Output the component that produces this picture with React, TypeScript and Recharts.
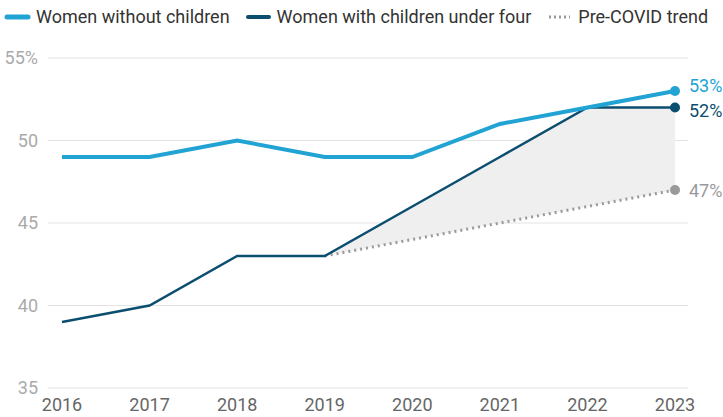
import { Line, Area, XAxis, YAxis, CartesianGrid, ComposedChart } from 'recharts';

const years = ['2016', '2017', '2018', '2019', '2020', '2021', '2022', '2023'];
const withoutChildren = [49, 49, 50, 49, 49, 51, 52, 53];
const withChildrenUnderFour = [39, 40, 43, 43, 46, 49, 52, 52];
const preCovidTrend: (number | null)[] = [null, null, null, 43, 44, 45, 46, 47];
const yTicks = [35, 40, 45, 50, 55];

const LIGHT = '#21a3d3';
const DARK = '#0c4e70';
const GREY = '#9a9a9a';
const FONT = 'Roboto, sans-serif';

const data = years.map((year, i) => ({
  year,
  without: withoutChildren[i],
  withKids: withChildrenUnderFour[i],
  trend: preCovidTrend[i],
  gap: preCovidTrend[i] == null ? null : [preCovidTrend[i], withChildrenUnderFour[i]],
}));

const last = years.length - 1;

function endDot(color: string) {
  return (props: any) => {
    if (props.index !== last) return <g key={props.index} />;
    return <circle key={props.index} cx={props.cx} cy={props.cy} r={5} fill={color} />;
  };
}

// shift nudges the end labels apart so 53% and 52% don't collide
function endLabel(color: string, shift: number) {
  return (props: any) => {
    if (props.index !== last) return <g key={props.index} />;
    return (
      <text
        key={props.index}
        x={props.x + 14}
        y={props.y + shift}
        dy="0.35em"
        fill={color}
        fontSize={18}
        fontFamily={FONT}
      >
        {props.value}%
      </text>
    );
  };
}

function LegendRow() {
  const item = (label: string, swatch: JSX.Element) => (
    <div style={{ display: 'flex', alignItems: 'center', marginRight: 15, whiteSpace: 'nowrap' }}>
      {swatch}
      <span style={{ marginLeft: 5 }}>{label}</span>
    </div>
  );
  return (
    <div
      style={{
        position: 'absolute',
        left: 4,
        top: 6,
        width: 720,
        display: 'flex',
        fontFamily: FONT,
        fontSize: 18,
        color: '#333',
      }}
    >
      {item(
        'Women without children',
        <svg width={27} height={10}><line x1={3} y1={5} x2={24} y2={5} stroke={LIGHT} strokeWidth={5} strokeLinecap="round" /></svg>
      )}
      {item(
        'Women with children under four',
        <svg width={27} height={10}><line x1={3} y1={5} x2={24} y2={5} stroke={DARK} strokeWidth={4} strokeLinecap="round" /></svg>
      )}
      {item(
        'Pre-COVID trend',
        <svg width={27} height={10}><line x1={3} y1={5} x2={24} y2={5} stroke={GREY} strokeWidth={3} strokeDasharray="2 3" /></svg>
      )}
    </div>
  );
}

export default function App() {
  return (
    <div style={{ position: 'absolute', left: 0, top: 0, width: 723, height: 417, background: '#fff' }}>
      <LegendRow />
      <ComposedChart width={723} height={417} data={data} margin={{ top: 58, right: 35, bottom: 0, left: 0 }}>
        <CartesianGrid vertical={false} stroke="#e3e3e3" />
        <XAxis
          dataKey="year"
          axisLine={false}
          tickLine={false}
          tickSize={0}
          tickMargin={10}
          height={29}
          padding={{ left: 14, right: 13 }}
          interval={0}
          tick={{ fill: '#666', fontSize: 18, fontFamily: FONT }}
        />
        <YAxis
          domain={[35, 55]}
          ticks={yTicks}
          axisLine={false}
          tickLine={false}
          tickSize={0}
          tickMargin={10}
          width={48}
          tickFormatter={(v: number) => (v === 55 ? `${v}%` : `${v}`)}
          tick={{ fill: '#aaa', fontSize: 18, fontFamily: FONT }}
        />
        <Area
          dataKey="gap"
          stroke="none"
          fill="#efefef"
          fillOpacity={1}
          isAnimationActive={false}
        />
        <Line
          dataKey="trend"
          stroke={GREY}
          strokeWidth={3}
          strokeDasharray="2 4"
          dot={endDot(GREY)}
          label={endLabel(GREY, 1)}
          isAnimationActive={false}
        />
        <Line
          dataKey="withKids"
          stroke={DARK}
          strokeWidth={2.5}
          dot={endDot(DARK)}
          label={endLabel(DARK, 3)}
          isAnimationActive={false}
        />
        <Line
          dataKey="without"
          stroke={LIGHT}
          strokeWidth={4}
          dot={endDot(LIGHT)}
          label={endLabel(LIGHT, -5)}
          isAnimationActive={false}
        />
      </ComposedChart>
    </div>
  );
}
